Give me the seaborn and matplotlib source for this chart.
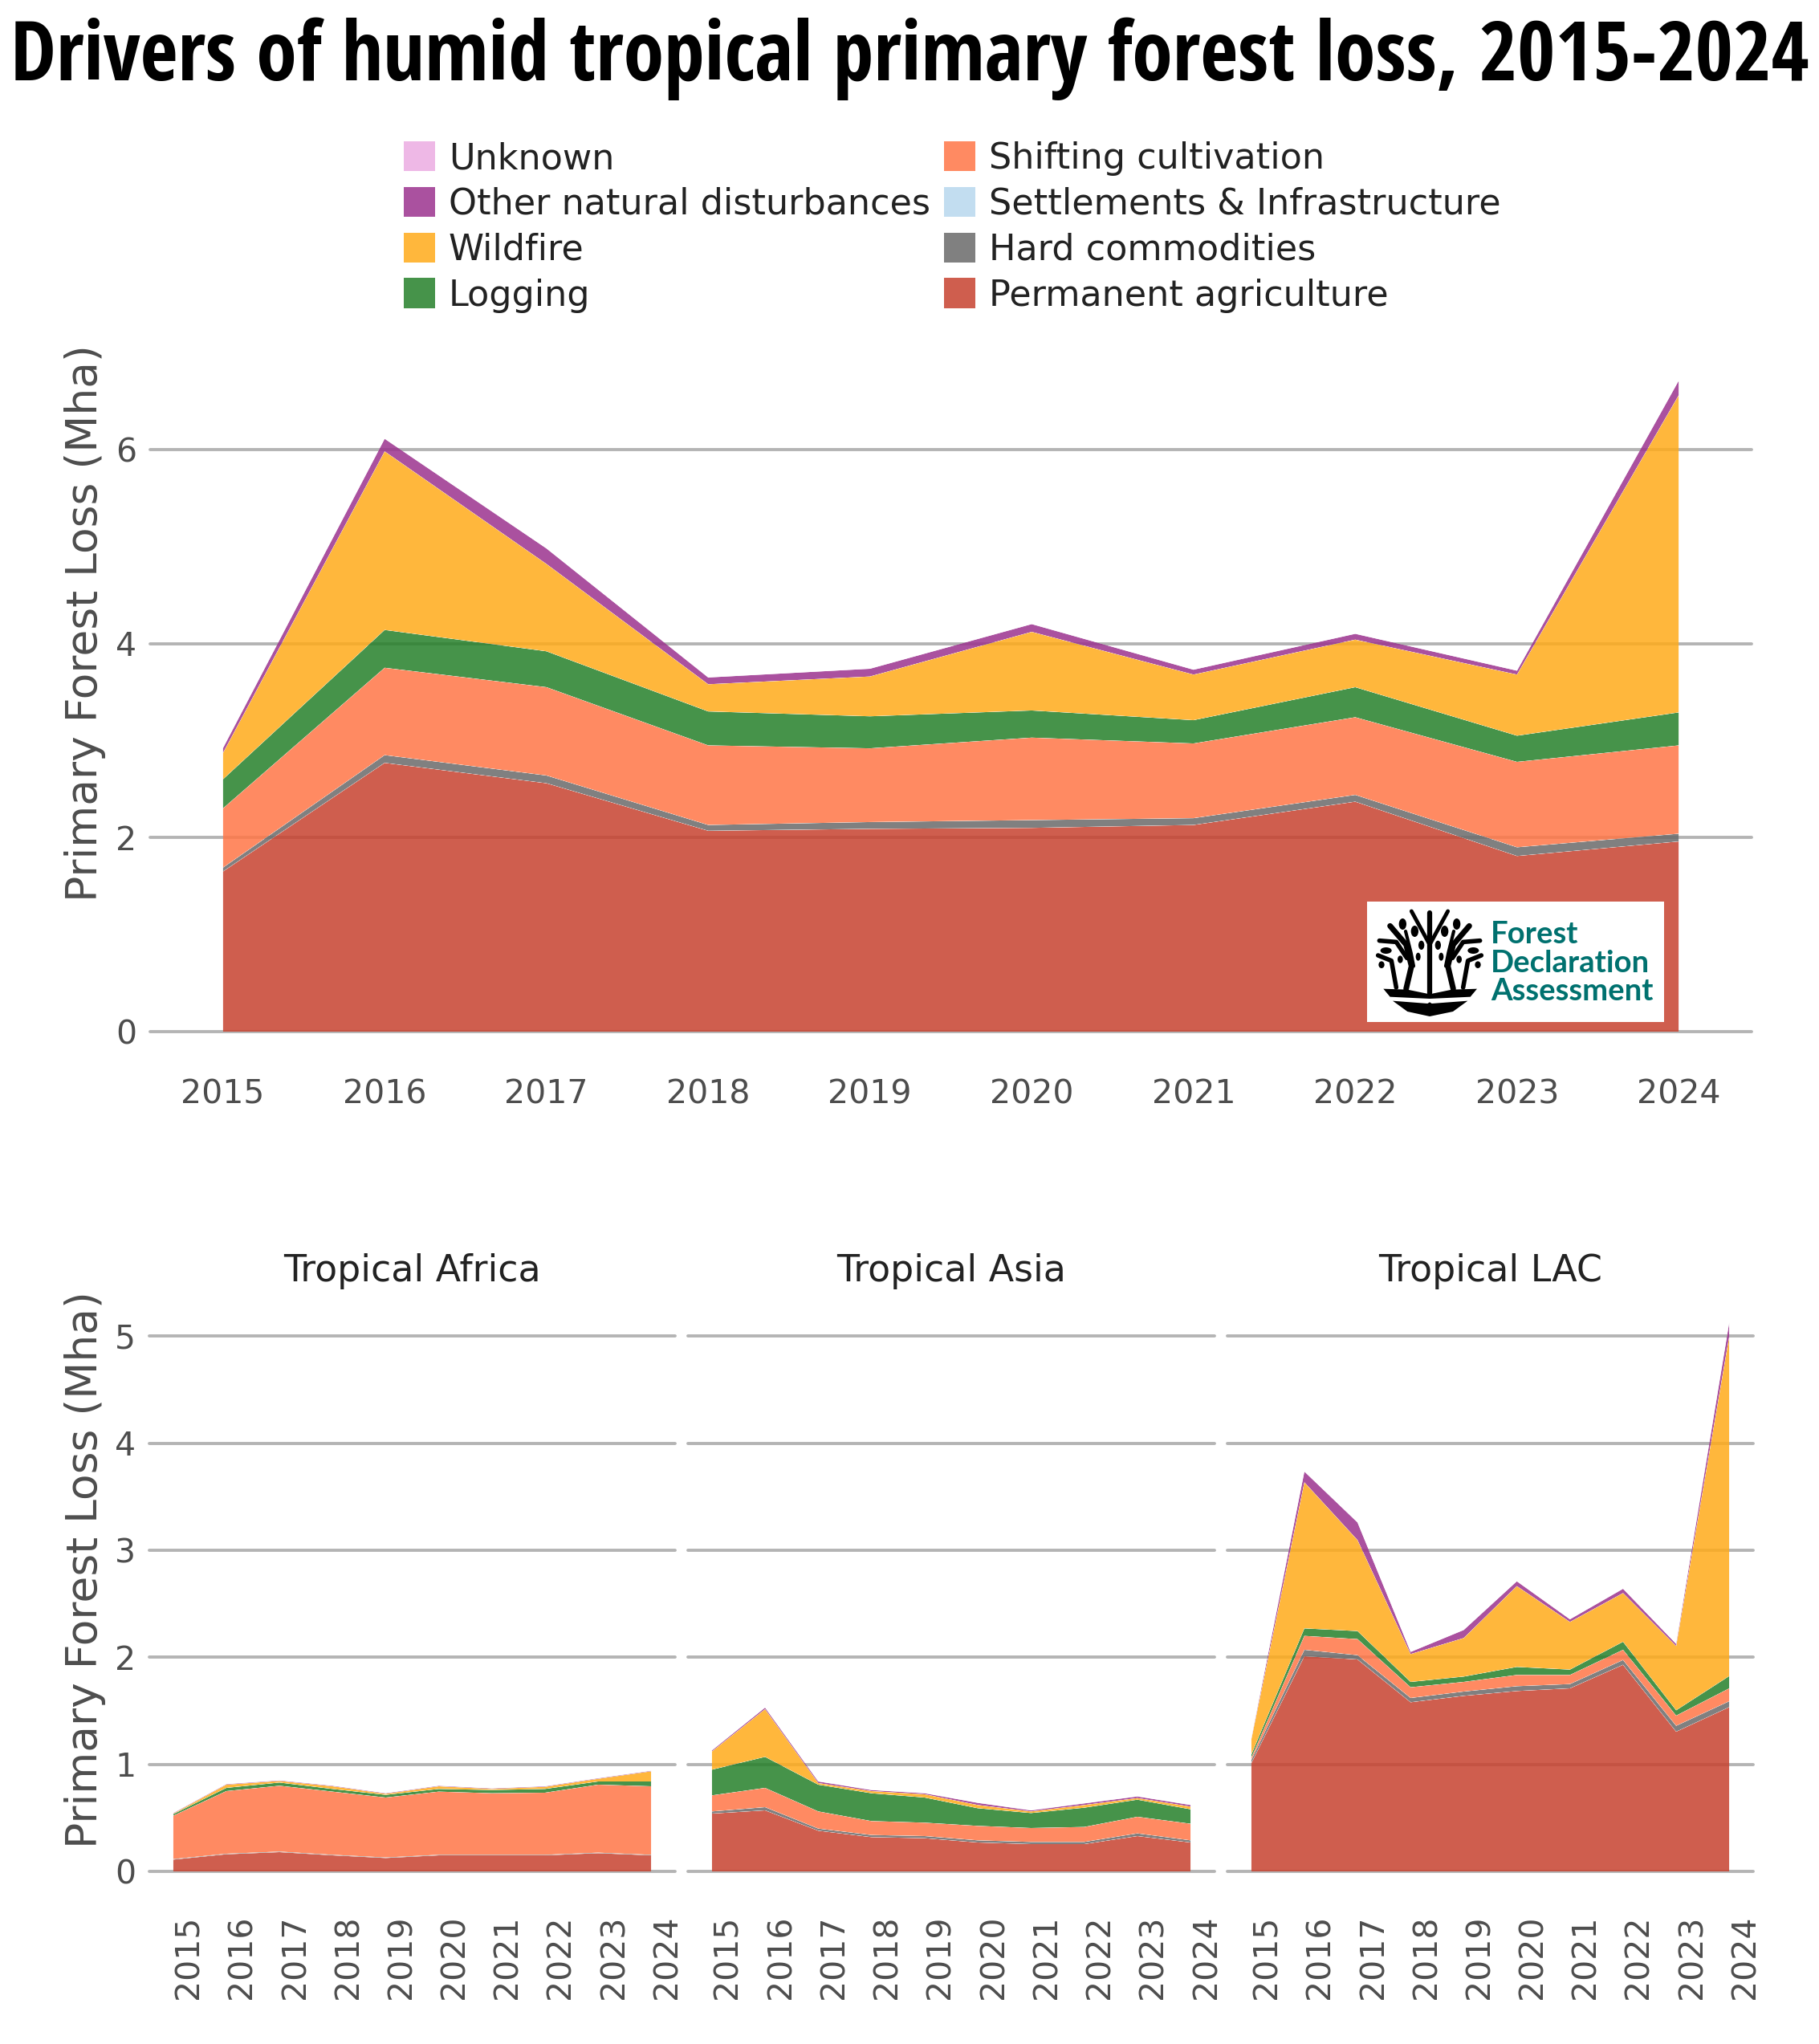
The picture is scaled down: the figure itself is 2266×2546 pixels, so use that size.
import numpy as np
import pandas as pd
import seaborn as sns
import seaborn.objects as so
import matplotlib
matplotlib.use("Agg")
import matplotlib.pyplot as plt
from matplotlib.patches import Patch, Ellipse, Polygon, Rectangle

W, H = 2266, 2546

years = list(range(2015, 2025))

# cumulative top edge of each band (Mha)
world_permanent = [1.65, 2.77, 2.56, 2.07, 2.09, 2.10, 2.13, 2.37, 1.81, 1.96]
world_hard = [1.69, 2.85, 2.64, 2.13, 2.16, 2.18, 2.20, 2.44, 1.90, 2.04]
world_shifting = [2.30, 3.75, 3.55, 2.95, 2.92, 3.03, 2.97, 3.24, 2.78, 2.95]
world_logging = [2.60, 4.14, 3.92, 3.30, 3.25, 3.31, 3.21, 3.55, 3.05, 3.29]
world_wildfire = [2.87, 5.98, 4.82, 3.58, 3.66, 4.12, 3.68, 4.04, 3.68, 6.56]
world_other = [2.92, 6.11, 4.98, 3.65, 3.74, 4.20, 3.73, 4.10, 3.72, 6.71]

africa_permanent = [0.11, 0.16, 0.18, 0.15, 0.125, 0.15, 0.15, 0.15, 0.17, 0.15]
africa_hard = [0.115, 0.165, 0.185, 0.155, 0.13, 0.155, 0.155, 0.155, 0.175, 0.155]
africa_shifting = [0.52, 0.75, 0.80, 0.745, 0.69, 0.745, 0.73, 0.735, 0.81, 0.795]
africa_logging = [0.535, 0.78, 0.83, 0.77, 0.715, 0.77, 0.76, 0.77, 0.84, 0.84]
africa_wildfire = [0.54, 0.81, 0.845, 0.795, 0.725, 0.795, 0.77, 0.79, 0.865, 0.935]
africa_other = [0.545, 0.815, 0.85, 0.80, 0.73, 0.80, 0.775, 0.795, 0.87, 0.94]

asia_permanent = [0.54, 0.57, 0.38, 0.32, 0.31, 0.27, 0.255, 0.255, 0.33, 0.27]
asia_hard = [0.56, 0.60, 0.40, 0.34, 0.33, 0.29, 0.275, 0.275, 0.355, 0.29]
asia_shifting = [0.71, 0.78, 0.56, 0.47, 0.455, 0.425, 0.405, 0.415, 0.51, 0.445]
asia_logging = [0.95, 1.07, 0.81, 0.73, 0.69, 0.59, 0.545, 0.595, 0.67, 0.58]
asia_wildfire = [1.12, 1.515, 0.825, 0.75, 0.72, 0.62, 0.56, 0.62, 0.685, 0.605]
asia_other = [1.13, 1.53, 0.84, 0.76, 0.73, 0.64, 0.57, 0.635, 0.70, 0.62]

lac_permanent = [1.01, 2.01, 1.98, 1.58, 1.64, 1.685, 1.71, 1.93, 1.305, 1.535]
lac_hard = [1.04, 2.07, 2.02, 1.62, 1.68, 1.73, 1.75, 1.975, 1.36, 1.59]
lac_shifting = [1.06, 2.20, 2.17, 1.72, 1.77, 1.835, 1.835, 2.07, 1.455, 1.71]
lac_logging = [1.09, 2.27, 2.245, 1.77, 1.82, 1.91, 1.885, 2.145, 1.505, 1.825]
lac_wildfire = [1.23, 3.635, 3.095, 2.03, 2.18, 2.665, 2.33, 2.60, 2.105, 5.00]
lac_other = [1.24, 3.735, 3.26, 2.05, 2.255, 2.71, 2.355, 2.64, 2.125, 5.13]

# bottom to top
drivers = ["Permanent agriculture", "Hard commodities", "Settlements & Infrastructure",
           "Shifting cultivation", "Logging", "Wildfire",
           "Other natural disturbances", "Unknown"]
palette = {"Permanent agriculture": "#C7422F", "Hard commodities": "#6A6A6A",
           "Settlements & Infrastructure": "#B8D7EE", "Shifting cultivation": "#FF7646",
           "Logging": "#26802A", "Wildfire": "#FFAB1A",
           "Other natural disturbances": "#9B338E", "Unknown": "#ECACE2"}
legend_order = ["Unknown", "Other natural disturbances", "Wildfire", "Logging",
                "Shifting cultivation", "Settlements & Infrastructure",
                "Hard commodities", "Permanent agriculture"]
fill_alpha = 0.85
label_grey = "#4D4D4D"


def make_long(perm, hard, shift, log, fire, other):
    tops = [perm, hard, hard, shift, log, fire, other, other]
    rows = []
    prev = np.zeros(len(years))
    for driver, top in zip(drivers, tops):
        top = np.array(top, dtype=float)
        for y, v in zip(years, top - prev):
            rows.append({"year": y, "driver": driver, "loss": v})
        prev = top
    return pd.DataFrame(rows)


def px_axes(left, top, right, bottom, **kw):
    return fig.add_axes([left / W, 1 - bottom / H, (right - left) / W, (bottom - top) / H], **kw)


def draw_panel(ax, data, ylim, ticks):
    (so.Plot(data, x="year", y="loss", color="driver")
        .add(so.Area(alpha=fill_alpha, edgewidth=0), so.Stack(), legend=False)
        .scale(color=palette)
        .on(ax)
        .plot())
    ax.set_xlim(2014.55, 2024.45)
    ax.set_ylim(*ylim)
    ax.set_xticks(years)
    ax.set_yticks(ticks)
    ax.set_xlabel("")
    ax.set_ylabel("")
    ax.set_axisbelow(True)
    ax.grid(False)
    ax.grid(axis="y", color="#B4B4B4", linewidth=2.8, clip_on=False)
    ax.set_facecolor("none")
    sns.despine(ax=ax, left=True, bottom=True)


sns.set_theme(style="white")
plt.rcParams["font.family"] = ["DejaVu Sans"]

fig = plt.figure(figsize=(W / 100, H / 100), dpi=100, facecolor="white")

fig.text(0.5, 1 - 100 / H, "Drivers of humid tropical primary forest loss, 2015-2024",
         family="Open Sans Condensed", fontweight="bold",
         fontsize=73.5, ha="center", va="baseline", color="black")

# top panel
ax_top = px_axes(187, 439, 2182, 1285)
draw_panel(ax_top, make_long(world_permanent, world_hard, world_shifting,
                             world_logging, world_wildfire, world_other), (0, 7), [0, 2, 4, 6])
ax_top.tick_params(axis="x", length=0, pad=42, labelsize=29.5, labelcolor=label_grey)
ax_top.tick_params(axis="y", length=0, pad=12, labelsize=29.5, labelcolor=label_grey)
ax_top.set_ylabel("Primary Forest Loss (Mha)", fontsize=38.5, color=label_grey)
ax_top.yaxis.set_label_coords(132 / W, 1 - 776 / H, transform=fig.transFigure)

# regional panels
regions = [("Tropical Africa", 186, 841, make_long(africa_permanent, africa_hard, africa_shifting,
                                                  africa_logging, africa_wildfire, africa_other)),
           ("Tropical Asia", 857, 1513, make_long(asia_permanent, asia_hard, asia_shifting,
                                                  asia_logging, asia_wildfire, asia_other)),
           ("Tropical LAC", 1529, 2184, make_long(lac_permanent, lac_hard, lac_shifting,
                                                 lac_logging, lac_wildfire, lac_other))]
for i, (name, left, right, data) in enumerate(regions):
    ax = px_axes(left, 1631, right, 2331)
    draw_panel(ax, data, (0, 5.25), [0, 1, 2, 3, 4, 5])
    ax.tick_params(axis="x", length=0, pad=39, labelsize=29.5, labelcolor=label_grey, labelrotation=90)
    plt.setp(ax.get_xticklabels(), ha="left")
    ax.tick_params(axis="y", length=0, pad=12, labelsize=29.5, labelcolor=label_grey, labelleft=i == 0)
    ax.set_title(name, fontsize=33, color="#222222", pad=25)
    if i == 0:
        ax.set_ylabel("Primary Forest Loss (Mha)", fontsize=38.5, color=label_grey)
        ax.yaxis.set_label_coords(132 / W, 1 - 1955 / H, transform=fig.transFigure)

# legend
handles = [Patch(facecolor=palette[d], alpha=fill_alpha, linewidth=0) for d in legend_order]
fig.legend(handles, legend_order, ncol=2, frameon=False, loc="upper left",
           bbox_to_anchor=(503 / W, 1 - 176 / H), fontsize=32, labelcolor="#222222",
           handlelength=0.88, handleheight=0.92, handletextpad=0.38,
           labelspacing=0.31, columnspacing=0.39, borderpad=0, borderaxespad=0)

# logo, drawn in its own pixel grid
logo = px_axes(1650, 1090, 2150, 1390, zorder=5)
logo.set_xlim(0, 1500)
logo.set_ylim(900, 0)
logo.axis("off")
logo.add_patch(Rectangle((159, 100), 1110, 448, facecolor="white", linewidth=0))
for line, y in zip(["Forest", "Declaration", "Assessment"], [222, 330, 436]):
    logo.text(622, y, line, color="#00716F", fontsize=27.5, fontweight="bold",
              family=["Lato", "DejaVu Sans"], ha="left", va="center")
logo.plot([393, 393], [140, 440], color="black", lw=4.5)
for sign in (-1, 1):
    mirror = lambda x: 393 + sign * x
    for xs, ys, lw in [([68, 0], [135, 260], 3.5),
                       ([148, 88, 68, 88], [190, 260, 340, 425], 5),
                       ([90, 70, 60], [210, 290, 340], 3),
                       ([188, 125, 85], [245, 250, 310], 4),
                       ([193, 143, 125], [300, 320, 420], 4)]:
        logo.plot([mirror(x) for x in xs], ys, color="black", lw=lw, solid_capstyle="round")
    for x, y, w, h in [(101, 183, 28, 42), (56, 210, 28, 42), (31, 262, 22, 34), (43, 305, 18, 30),
                       (163, 282, 42, 24), (110, 315, 20, 28), (180, 335, 22, 26)]:
        logo.add_patch(Ellipse((mirror(x), y), w, h, facecolor="black", linewidth=0))
logo.add_patch(Polygon([(220, 425), (310, 428), (393, 445), (476, 428), (570, 425),
                        (545, 455), (393, 462), (245, 455)], facecolor="black", linewidth=0))
logo.add_patch(Polygon([(255, 470), (385, 480), (393, 475), (401, 480), (535, 470), (480, 510),
                        (393, 528), (310, 510)], facecolor="black", linewidth=0))

fig.savefig("out.png", dpi=100, facecolor="white")
